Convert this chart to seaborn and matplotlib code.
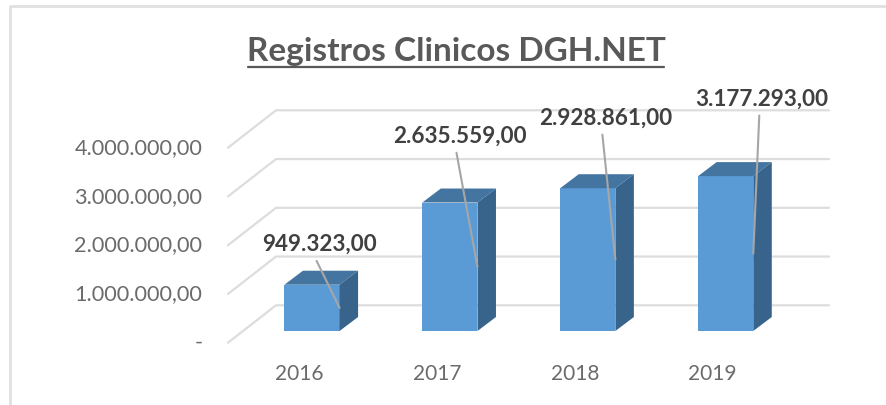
import matplotlib.pyplot as plt
import matplotlib.transforms as mtrans
import pandas as pd
import seaborn as sns
from matplotlib.lines import Line2D

years = ["2016", "2017", "2018", "2019"]
registros = [949323, 2635559, 2928861, 3177293]
y_ticks = [0, 1000000, 2000000, 3000000, 4000000]
y_tick_labels = ["-", "1.000.000,00", "2.000.000,00", "3.000.000,00", "4.000.000,00"]
bar_labels = ["949.323,00", "2.635.559,00", "2.928.861,00", "3.177.293,00"]

# where the labels and leader lines start, pixels from the leader's end on the bar
label_offsets = [(-20, 64), (-18, 131), (-10, 141), (9, 154)]
leader_offsets = [(-23, 47), (-21, 114), (-13, 125), (6, 138)]

W, H = 886, 405
px_x = 137.9  # pixels per category
px_y = 48.75 / 1e6  # pixels per unit
depth_x, depth_y = 18.5, 14
bar_width = 0.4

sns.set_theme(style="white")
plt.rcParams["font.family"] = ["Lato", "DejaVu Sans"]

df = pd.DataFrame({"anio": years, "registros": registros})

fig = plt.figure(figsize=(W / 100, H / 100), dpi=100)
ax = fig.add_axes([228 / W, 1 - 343 / H, (829 - 228) / W, (343 - 110) / H])

sns.barplot(data=df, x="anio", y="registros", color="#5B9BD5", saturation=1,
            width=bar_width, linewidth=0, ax=ax, zorder=3)

ax.set_xlim((228 - 312) / px_x, (829 - 312) / px_x)
ax.set_ylim(-12 / px_y, 221 / px_y)
ax.set_xlabel("")
ax.set_ylabel("")
sns.despine(ax=ax, left=True, bottom=True)

# back wall and left side of the 3d box
dx = depth_x / px_x
dy = depth_y / px_y
back_x = (276 - 312) / px_x
for v in y_ticks:
    ax.plot([ax.get_xlim()[0], back_x, ax.get_xlim()[1]],
            [v - 11.7 / px_y, v + 25.7 / px_y, v + 25.7 / px_y],
            color="#DDDDDD", lw=1.6, zorder=1, clip_on=False)

# top and side of each bar
for i, v in enumerate(registros):
    r = i + bar_width / 2
    l = i - bar_width / 2
    ax.fill([l, r, r + dx, l + dx], [v, v, v + dy, v + dy], color="#4475A1", lw=0, zorder=3)
    ax.fill([r, r + dx, r + dx, r], [0, dy, v + dy, v], color="#38648C", lw=0, zorder=3)

# labels with leader lines, the line ends in the middle of the bar edge
for i, v in enumerate(registros):
    anchor = (i + bar_width / 2, v / 2)
    ax.annotate("", xy=anchor, xytext=leader_offsets[i], textcoords="offset pixels",
                arrowprops=dict(arrowstyle="-", color="#A6A6A6", lw=1.5, shrinkA=0, shrinkB=0),
                zorder=5)
    ax.annotate(bar_labels[i], xy=anchor, xytext=label_offsets[i], textcoords="offset pixels",
                ha="center", va="center", fontsize=16.2, fontweight="bold", color="#404040",
                zorder=6)

ax.set_yticks(y_ticks)
ax.set_yticklabels(y_tick_labels)
ax.tick_params(axis="y", length=0, pad=18.5, labelsize=15.6, labelcolor="#6B6B6B")
ax.tick_params(axis="x", length=0, pad=15, labelsize=15, labelcolor="#6B6B6B")

# labels sit lower and further left than the ticks, like the 3d excel chart
for lab in ax.get_yticklabels():
    lab.set_transform(lab.get_transform() + mtrans.Affine2D().translate(0, -10))
for lab in ax.get_xticklabels():
    lab.set_transform(lab.get_transform() + mtrans.Affine2D().translate(-13, 0))

fig.text(456 / W, 1 - 51 / H, "Registros Clinicos DGH.NET", ha="center", va="center",
         fontsize=24, fontweight="bold", color="#595959")
fig.add_artist(Line2D([248 / W, 664 / W], [1 - 66.5 / H, 1 - 66.5 / H], color="#595959", lw=1.6))

# chart frame
fig.add_artist(Line2D([10 / W, 10 / W, 1], [0, 1 - 5.5 / H, 1 - 5.5 / H], color="#E0E0E0", lw=2))

fig.savefig("out.png", dpi=100)
